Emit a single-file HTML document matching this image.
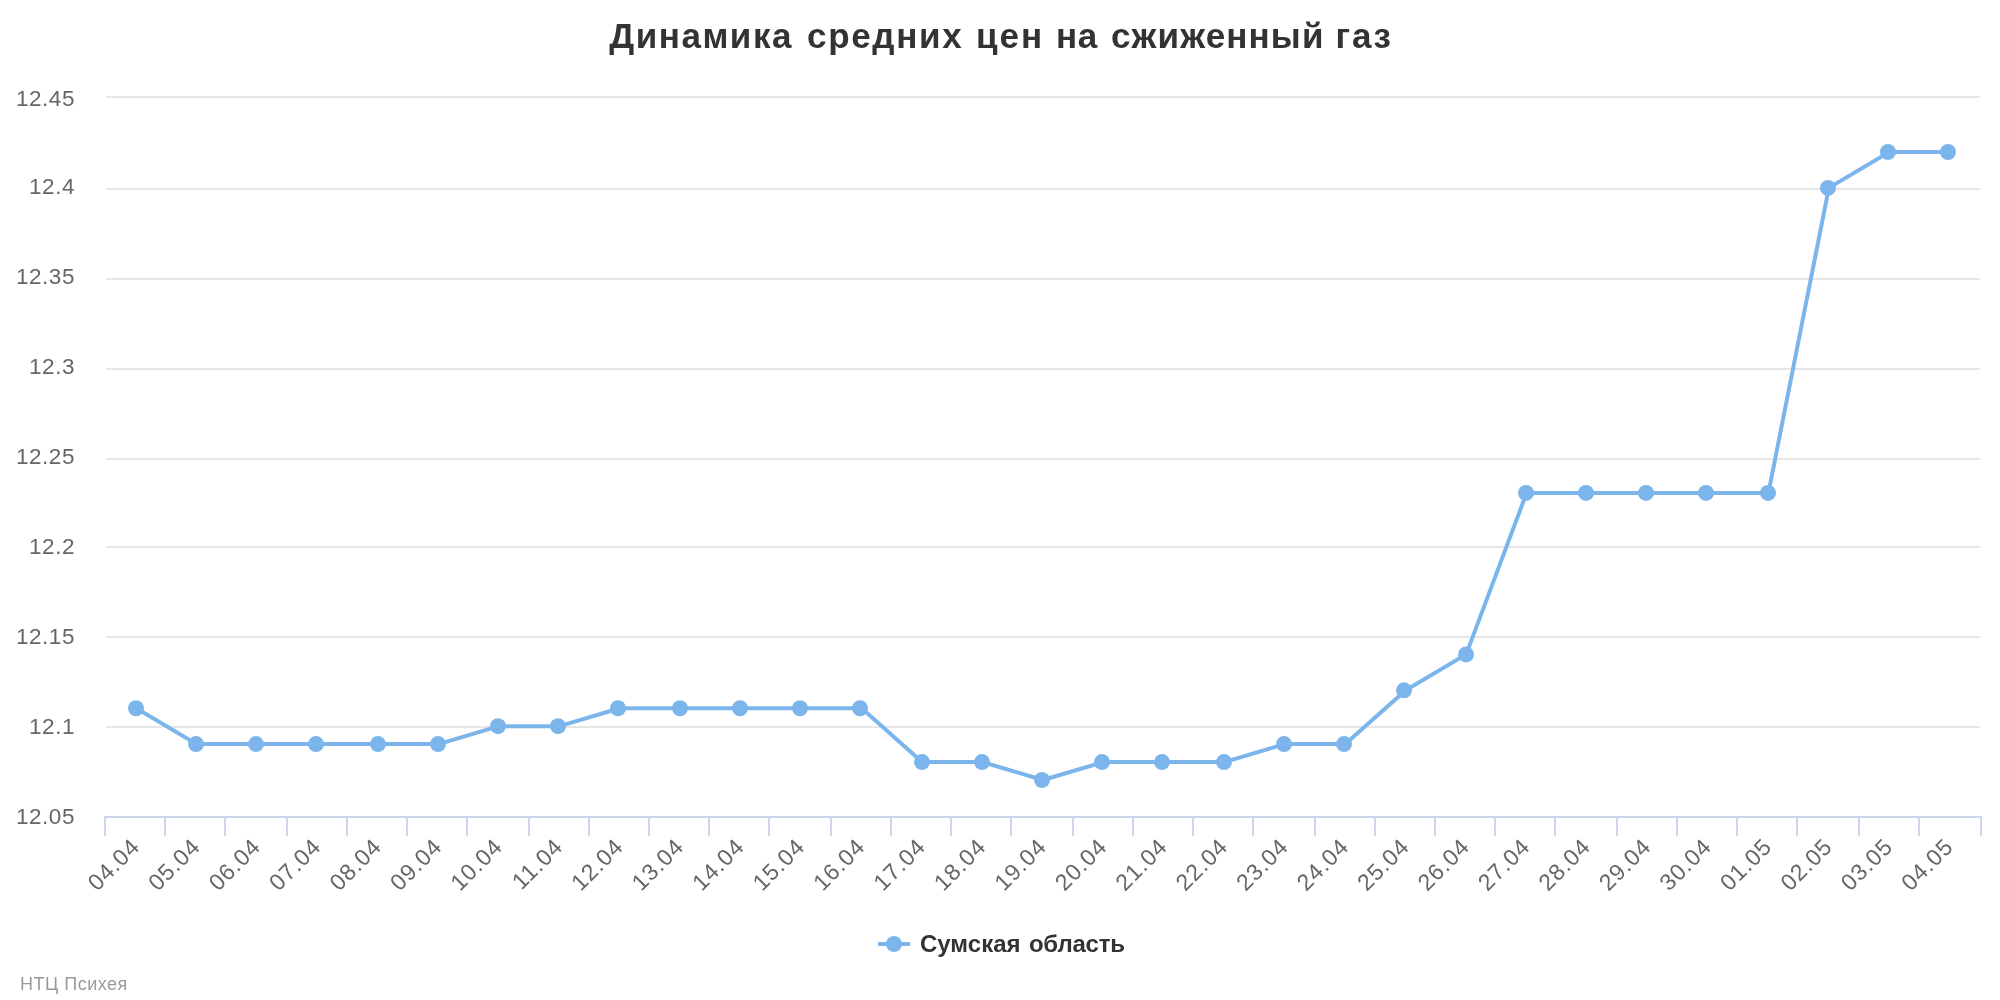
<!DOCTYPE html><html><head><meta charset="utf-8"><style>html,body{margin:0;padding:0;background:#fff;width:2000px;height:1000px;overflow:hidden}svg{display:block;will-change:transform}text{font-family:"Liberation Sans",sans-serif}</style></head><body>
<svg width="2000" height="1000" viewBox="0 0 2000 1000">
<rect x="0" y="0" width="2000" height="1000" fill="#ffffff"/>
<text x="609.2" y="47.6" font-size="35" letter-spacing="1.54" font-weight="bold" fill="#333333">Динамика</text>
<text x="807.1" y="47.6" font-size="35" letter-spacing="1.65" font-weight="bold" fill="#333333">средних</text>
<text x="976" y="47.6" font-size="35" letter-spacing="2.0" font-weight="bold" fill="#333333">цен</text>
<text x="1056" y="47.6" font-size="35" letter-spacing="0.6" font-weight="bold" fill="#333333">на</text>
<text x="1111" y="47.6" font-size="35" letter-spacing="1.14" font-weight="bold" fill="#333333">сжиженный</text>
<text x="1335.6" y="47.6" font-size="35" letter-spacing="1.75" font-weight="bold" fill="#333333">газ</text>
<rect x="106" y="96" width="1874" height="2" fill="#e6e6e6"/>
<rect x="106" y="188" width="1874" height="2" fill="#e6e6e6"/>
<rect x="106" y="278" width="1874" height="2" fill="#e6e6e6"/>
<rect x="106" y="368" width="1874" height="2" fill="#e6e6e6"/>
<rect x="106" y="458" width="1874" height="2" fill="#e6e6e6"/>
<rect x="106" y="546" width="1874" height="2" fill="#e6e6e6"/>
<rect x="106" y="636" width="1874" height="2" fill="#e6e6e6"/>
<rect x="106" y="726" width="1874" height="2" fill="#e6e6e6"/>
<rect x="104" y="816" width="1878" height="2" fill="#ccd6eb"/>
<rect x="104" y="816" width="2" height="20" fill="#ccd6eb"/>
<rect x="164" y="816" width="2" height="20" fill="#ccd6eb"/>
<rect x="224" y="816" width="2" height="20" fill="#ccd6eb"/>
<rect x="286" y="816" width="2" height="20" fill="#ccd6eb"/>
<rect x="346" y="816" width="2" height="20" fill="#ccd6eb"/>
<rect x="406" y="816" width="2" height="20" fill="#ccd6eb"/>
<rect x="466" y="816" width="2" height="20" fill="#ccd6eb"/>
<rect x="528" y="816" width="2" height="20" fill="#ccd6eb"/>
<rect x="588" y="816" width="2" height="20" fill="#ccd6eb"/>
<rect x="648" y="816" width="2" height="20" fill="#ccd6eb"/>
<rect x="708" y="816" width="2" height="20" fill="#ccd6eb"/>
<rect x="768" y="816" width="2" height="20" fill="#ccd6eb"/>
<rect x="830" y="816" width="2" height="20" fill="#ccd6eb"/>
<rect x="890" y="816" width="2" height="20" fill="#ccd6eb"/>
<rect x="950" y="816" width="2" height="20" fill="#ccd6eb"/>
<rect x="1010" y="816" width="2" height="20" fill="#ccd6eb"/>
<rect x="1072" y="816" width="2" height="20" fill="#ccd6eb"/>
<rect x="1132" y="816" width="2" height="20" fill="#ccd6eb"/>
<rect x="1192" y="816" width="2" height="20" fill="#ccd6eb"/>
<rect x="1252" y="816" width="2" height="20" fill="#ccd6eb"/>
<rect x="1314" y="816" width="2" height="20" fill="#ccd6eb"/>
<rect x="1374" y="816" width="2" height="20" fill="#ccd6eb"/>
<rect x="1434" y="816" width="2" height="20" fill="#ccd6eb"/>
<rect x="1494" y="816" width="2" height="20" fill="#ccd6eb"/>
<rect x="1554" y="816" width="2" height="20" fill="#ccd6eb"/>
<rect x="1616" y="816" width="2" height="20" fill="#ccd6eb"/>
<rect x="1676" y="816" width="2" height="20" fill="#ccd6eb"/>
<rect x="1736" y="816" width="2" height="20" fill="#ccd6eb"/>
<rect x="1796" y="816" width="2" height="20" fill="#ccd6eb"/>
<rect x="1858" y="816" width="2" height="20" fill="#ccd6eb"/>
<rect x="1918" y="816" width="2" height="20" fill="#ccd6eb"/>
<rect x="1980" y="816" width="2" height="20" fill="#ccd6eb"/>
<text x="75" y="106" text-anchor="end" font-size="22.5" letter-spacing="0.55" fill="#666666">12.45</text>
<text x="75" y="194" text-anchor="end" font-size="22.5" letter-spacing="0.55" fill="#666666">12.4</text>
<text x="75" y="284" text-anchor="end" font-size="22.5" letter-spacing="0.55" fill="#666666">12.35</text>
<text x="75" y="374" text-anchor="end" font-size="22.5" letter-spacing="0.55" fill="#666666">12.3</text>
<text x="75" y="464" text-anchor="end" font-size="22.5" letter-spacing="0.55" fill="#666666">12.25</text>
<text x="75" y="554" text-anchor="end" font-size="22.5" letter-spacing="0.55" fill="#666666">12.2</text>
<text x="75" y="644" text-anchor="end" font-size="22.5" letter-spacing="0.55" fill="#666666">12.15</text>
<text x="75" y="734" text-anchor="end" font-size="22.5" letter-spacing="0.55" fill="#666666">12.1</text>
<text x="75" y="824" text-anchor="end" font-size="22.5" letter-spacing="0.55" fill="#666666">12.05</text>
<text x="141.13" y="848.1" text-anchor="end" font-size="23" letter-spacing="0.9" fill="#666666" transform="rotate(-45 141.13 848.1)">04.04</text>
<text x="201.58" y="848.1" text-anchor="end" font-size="23" letter-spacing="0.9" fill="#666666" transform="rotate(-45 201.58 848.1)">05.04</text>
<text x="262.03" y="848.1" text-anchor="end" font-size="23" letter-spacing="0.9" fill="#666666" transform="rotate(-45 262.03 848.1)">06.04</text>
<text x="322.48" y="848.1" text-anchor="end" font-size="23" letter-spacing="0.9" fill="#666666" transform="rotate(-45 322.48 848.1)">07.04</text>
<text x="382.93" y="848.1" text-anchor="end" font-size="23" letter-spacing="0.9" fill="#666666" transform="rotate(-45 382.93 848.1)">08.04</text>
<text x="443.38" y="848.1" text-anchor="end" font-size="23" letter-spacing="0.9" fill="#666666" transform="rotate(-45 443.38 848.1)">09.04</text>
<text x="503.84" y="848.1" text-anchor="end" font-size="23" letter-spacing="0.9" fill="#666666" transform="rotate(-45 503.84 848.1)">10.04</text>
<text x="564.29" y="848.1" text-anchor="end" font-size="23" letter-spacing="0.9" fill="#666666" transform="rotate(-45 564.29 848.1)">11.04</text>
<text x="624.74" y="848.1" text-anchor="end" font-size="23" letter-spacing="0.9" fill="#666666" transform="rotate(-45 624.74 848.1)">12.04</text>
<text x="685.19" y="848.1" text-anchor="end" font-size="23" letter-spacing="0.9" fill="#666666" transform="rotate(-45 685.19 848.1)">13.04</text>
<text x="745.64" y="848.1" text-anchor="end" font-size="23" letter-spacing="0.9" fill="#666666" transform="rotate(-45 745.64 848.1)">14.04</text>
<text x="806.09" y="848.1" text-anchor="end" font-size="23" letter-spacing="0.9" fill="#666666" transform="rotate(-45 806.09 848.1)">15.04</text>
<text x="866.55" y="848.1" text-anchor="end" font-size="23" letter-spacing="0.9" fill="#666666" transform="rotate(-45 866.55 848.1)">16.04</text>
<text x="927.00" y="848.1" text-anchor="end" font-size="23" letter-spacing="0.9" fill="#666666" transform="rotate(-45 927.00 848.1)">17.04</text>
<text x="987.45" y="848.1" text-anchor="end" font-size="23" letter-spacing="0.9" fill="#666666" transform="rotate(-45 987.45 848.1)">18.04</text>
<text x="1047.90" y="848.1" text-anchor="end" font-size="23" letter-spacing="0.9" fill="#666666" transform="rotate(-45 1047.90 848.1)">19.04</text>
<text x="1108.35" y="848.1" text-anchor="end" font-size="23" letter-spacing="0.9" fill="#666666" transform="rotate(-45 1108.35 848.1)">20.04</text>
<text x="1168.80" y="848.1" text-anchor="end" font-size="23" letter-spacing="0.9" fill="#666666" transform="rotate(-45 1168.80 848.1)">21.04</text>
<text x="1229.25" y="848.1" text-anchor="end" font-size="23" letter-spacing="0.9" fill="#666666" transform="rotate(-45 1229.25 848.1)">22.04</text>
<text x="1289.71" y="848.1" text-anchor="end" font-size="23" letter-spacing="0.9" fill="#666666" transform="rotate(-45 1289.71 848.1)">23.04</text>
<text x="1350.16" y="848.1" text-anchor="end" font-size="23" letter-spacing="0.9" fill="#666666" transform="rotate(-45 1350.16 848.1)">24.04</text>
<text x="1410.61" y="848.1" text-anchor="end" font-size="23" letter-spacing="0.9" fill="#666666" transform="rotate(-45 1410.61 848.1)">25.04</text>
<text x="1471.06" y="848.1" text-anchor="end" font-size="23" letter-spacing="0.9" fill="#666666" transform="rotate(-45 1471.06 848.1)">26.04</text>
<text x="1531.51" y="848.1" text-anchor="end" font-size="23" letter-spacing="0.9" fill="#666666" transform="rotate(-45 1531.51 848.1)">27.04</text>
<text x="1591.96" y="848.1" text-anchor="end" font-size="23" letter-spacing="0.9" fill="#666666" transform="rotate(-45 1591.96 848.1)">28.04</text>
<text x="1652.42" y="848.1" text-anchor="end" font-size="23" letter-spacing="0.9" fill="#666666" transform="rotate(-45 1652.42 848.1)">29.04</text>
<text x="1712.87" y="848.1" text-anchor="end" font-size="23" letter-spacing="0.9" fill="#666666" transform="rotate(-45 1712.87 848.1)">30.04</text>
<text x="1773.32" y="848.1" text-anchor="end" font-size="23" letter-spacing="0.9" fill="#666666" transform="rotate(-45 1773.32 848.1)">01.05</text>
<text x="1833.77" y="848.1" text-anchor="end" font-size="23" letter-spacing="0.9" fill="#666666" transform="rotate(-45 1833.77 848.1)">02.05</text>
<text x="1894.22" y="848.1" text-anchor="end" font-size="23" letter-spacing="0.9" fill="#666666" transform="rotate(-45 1894.22 848.1)">03.05</text>
<text x="1954.67" y="848.1" text-anchor="end" font-size="23" letter-spacing="0.9" fill="#666666" transform="rotate(-45 1954.67 848.1)">04.05</text>
<polyline points="136.23,708.23 196.68,744.11 257.13,744.11 317.58,744.11 378.03,744.11 438.48,744.11 498.94,726.17 559.39,726.17 619.84,708.23 680.29,708.23 740.74,708.23 801.19,708.23 861.65,708.23 922.10,762.06 982.55,762.06 1043.00,780.00 1103.45,762.06 1163.90,762.06 1224.35,762.06 1284.81,744.11 1345.26,744.11 1405.71,690.29 1466.16,654.40 1526.61,492.91 1587.06,492.91 1647.52,492.91 1707.97,492.91 1768.42,492.91 1828.87,187.88 1889.32,152.00 1949.77,152.00" fill="none" stroke="#7cb5ec" stroke-width="4" stroke-linejoin="round" stroke-linecap="round"/>
<circle cx="136" cy="708.23" r="8" fill="#7cb5ec"/>
<circle cx="196" cy="744.11" r="8" fill="#7cb5ec"/>
<circle cx="256" cy="744.11" r="8" fill="#7cb5ec"/>
<circle cx="316" cy="744.11" r="8" fill="#7cb5ec"/>
<circle cx="378" cy="744.11" r="8" fill="#7cb5ec"/>
<circle cx="438" cy="744.11" r="8" fill="#7cb5ec"/>
<circle cx="498" cy="726.17" r="8" fill="#7cb5ec"/>
<circle cx="558" cy="726.17" r="8" fill="#7cb5ec"/>
<circle cx="618" cy="708.23" r="8" fill="#7cb5ec"/>
<circle cx="680" cy="708.23" r="8" fill="#7cb5ec"/>
<circle cx="740" cy="708.23" r="8" fill="#7cb5ec"/>
<circle cx="800" cy="708.23" r="8" fill="#7cb5ec"/>
<circle cx="860" cy="708.23" r="8" fill="#7cb5ec"/>
<circle cx="922" cy="762.06" r="8" fill="#7cb5ec"/>
<circle cx="982" cy="762.06" r="8" fill="#7cb5ec"/>
<circle cx="1042" cy="780.00" r="8" fill="#7cb5ec"/>
<circle cx="1102" cy="762.06" r="8" fill="#7cb5ec"/>
<circle cx="1162" cy="762.06" r="8" fill="#7cb5ec"/>
<circle cx="1224" cy="762.06" r="8" fill="#7cb5ec"/>
<circle cx="1284" cy="744.11" r="8" fill="#7cb5ec"/>
<circle cx="1344" cy="744.11" r="8" fill="#7cb5ec"/>
<circle cx="1404" cy="690.29" r="8" fill="#7cb5ec"/>
<circle cx="1466" cy="654.40" r="8" fill="#7cb5ec"/>
<circle cx="1526" cy="492.91" r="8" fill="#7cb5ec"/>
<circle cx="1586" cy="492.91" r="8" fill="#7cb5ec"/>
<circle cx="1646" cy="492.91" r="8" fill="#7cb5ec"/>
<circle cx="1706" cy="492.91" r="8" fill="#7cb5ec"/>
<circle cx="1768" cy="492.91" r="8" fill="#7cb5ec"/>
<circle cx="1828" cy="187.88" r="8" fill="#7cb5ec"/>
<circle cx="1888" cy="152.00" r="8" fill="#7cb5ec"/>
<circle cx="1948" cy="152.00" r="8" fill="#7cb5ec"/>
<rect x="878" y="942" width="32" height="4" fill="#7cb5ec"/>
<circle cx="894" cy="944" r="8" fill="#7cb5ec"/>
<text x="920" y="952" font-size="24" font-weight="bold" fill="#333333">Сумская</text>
<text x="1028.9" y="952" font-size="24" letter-spacing="-0.2" font-weight="bold" fill="#333333">область</text>
<text x="20" y="990" font-size="18" letter-spacing="0.5" fill="#999999">НТЦ Психея</text>
</svg></body></html>
